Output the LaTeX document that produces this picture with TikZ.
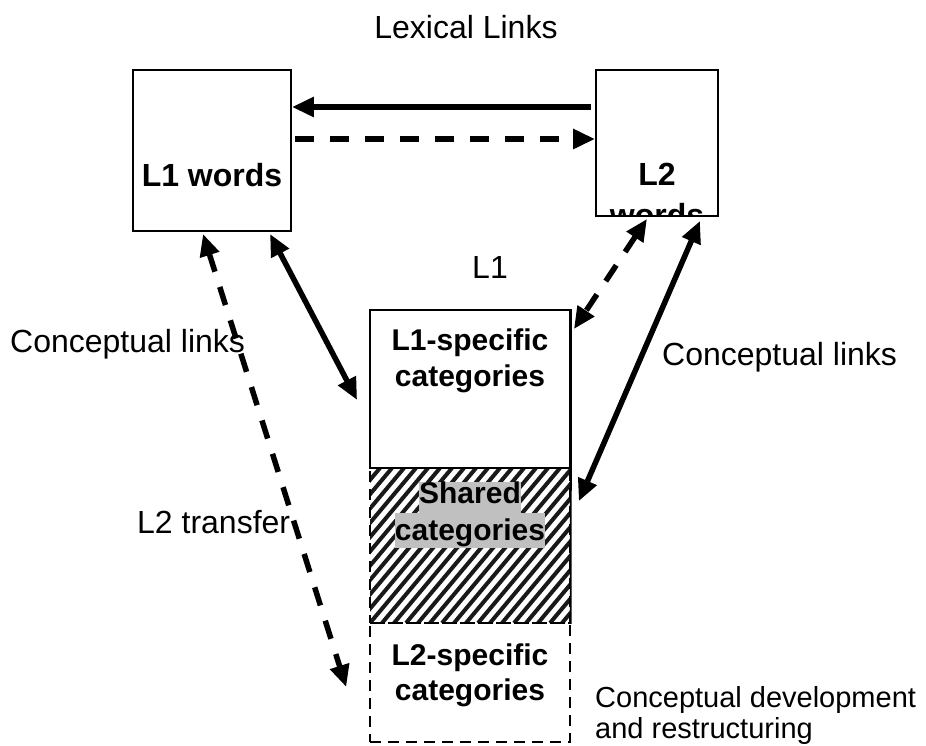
\documentclass[tikz,border=0pt]{standalone}
\usepackage{fontspec}
\setmainfont{Liberation Sans}
\usetikzlibrary{arrows.meta,calc}

\definecolor{highlight}{HTML}{C0C0C0}

\begin{document}
\begin{tikzpicture}[x=1pt,y=-1pt,
  box/.style={draw, line width=1.8pt, inner sep=0pt},
  dbox/.style={draw, line width=1.6pt, dash pattern=on 11pt off 7pt, inner sep=0pt},
  lbl/.style={font=\fontsize{32}{38}\selectfont, inner sep=0pt, anchor=base},
  lblw/.style={font=\fontsize{32}{38}\selectfont, inner sep=0pt, anchor=base west},
  small/.style={font=\fontsize{29}{31}\selectfont, inner sep=0pt, anchor=base west},
  blbl/.style={font=\fontsize{32}{38}\selectfont\bfseries, inner sep=0pt, anchor=base},
  cat/.style={font=\fontsize{30}{36}\selectfont\bfseries, inner sep=0pt, anchor=base},
  tip/.tip={Triangle[length=22pt,width=19pt]},
  link/.style={line width=5.5pt},
  dlink/.style={line width=5.5pt, dash pattern=on 19pt off 16pt},
]
\useasboundingbox (0,0) rectangle (926,745);

% word stores
\node[box, minimum width=158pt, minimum height=161pt] (l1box) at (212,150.5) {};
\node[box, minimum width=122pt, minimum height=146pt] (l2box) at (657,143) {};
\node[blbl] (l1words) at (212,186) {L1 words};
\begin{scope}
  \clip (597,71) rectangle (717,215);
  \node[blbl] (l2name) at (657,185) {L2};
  \node[blbl] (l2words) at (657,226) {words};
\end{scope}

% conceptual store: three stacked parts
\begin{scope}
  \clip (370,468) rectangle (570,623);
  \foreach \x in {214,226,...,590}
    \draw[line width=4pt, black!90] (\x,623) -- ++(130,-155);
\end{scope}
\node[box, minimum width=200pt, minimum height=158pt] (l1cat) at (470,389) {};
\node[dbox, minimum width=200pt, minimum height=155pt] (shared) at (470,545.5) {};
\node[dbox, minimum width=200pt, minimum height=119pt] (l2cat) at (470,682.5) {};
\draw[line width=1.8pt] (l1cat.north east) -- (shared.south east);

\node[cat] (t1a) at (470,350) {L1-specific};
\node[cat] (t1b) at (470,386) {categories};
\node[cat, fill=highlight, text height=21pt, text depth=10pt] (tsa) at (470,503) {Shared};
\node[cat, fill=highlight, text height=27pt, text depth=8pt] (tsb) at (470,540) {categories};
\node[cat] (t2a) at (470,665) {L2-specific};
\node[cat] (t2b) at (470,700) {categories};

% labels
\node[lbl] (lex) at (466,38) {Lexical Links};
\node[lbl] (l1lab) at (490,278) {L1};
\node[lblw] (concl) at (10,352) {Conceptual links};
\node[lblw] (concr) at (662,365) {Conceptual links};
\node[lblw] (transfer) at (137,533) {L2 transfer};
\node[small] (dev1) at (595,707) {Conceptual development};
\node[small] (dev2) at (595,738) {and restructuring};

% lexical links
\draw[link, -tip] ([xshift=-4pt,yshift=36pt]l2box.west) -- ([yshift=43.5pt]l1box.east);
\draw[dlink, -tip] ([xshift=3pt,yshift=11.5pt]l1box.east) -- ([yshift=4pt]l2box.west);

% conceptual links
\draw[link, tip-tip] ([xshift=58pt,yshift=-2pt]l1box.south) -- ([xshift=-12pt,yshift=-11pt]l1cat.west);
\draw[dlink, tip-tip] ([xshift=-9pt,yshift=-2pt]l1box.south) -- ([xshift=-23pt,yshift=-4.5pt]l2cat.west);
\draw[dlink, tip-tip] ([xshift=-10pt,yshift=-2pt]l2box.south) -- ([xshift=3pt,yshift=-20pt]l1cat.north east);
\draw[link, tip-tip] ([xshift=43pt,yshift=-4pt]l2box.south) -- ([xshift=8pt,yshift=-34pt]shared.north east);
\end{tikzpicture}
\end{document}
